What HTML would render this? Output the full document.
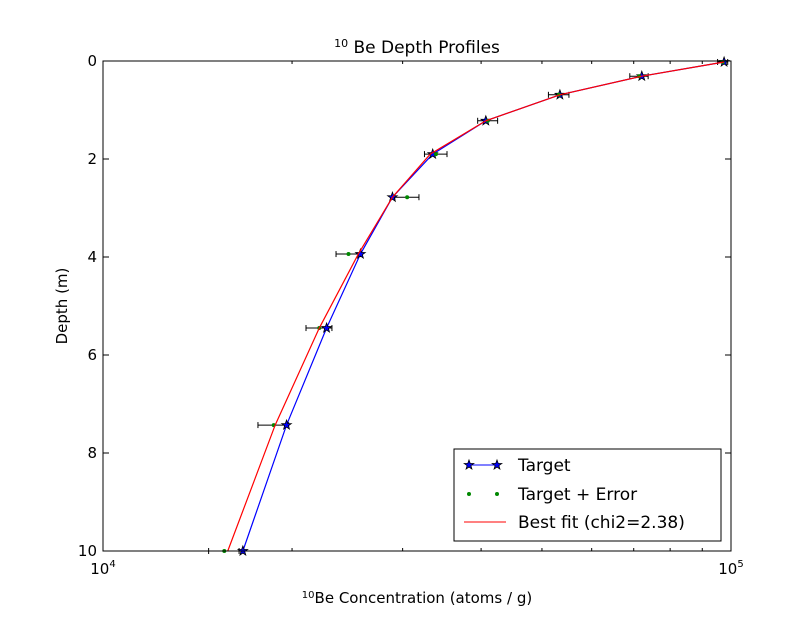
<!DOCTYPE html>
<html><head><meta charset="utf-8"><style>
body{margin:0;background:#fff;}
svg text{font-family:"DejaVu Sans","Liberation Sans",sans-serif;}
</style></head><body>
<svg id="chart" width="812" height="612" xmlns="http://www.w3.org/2000/svg">
<defs><polygon id="star" points="0,-5 1.2,-1.6 4.8,-1.5 1.9,0.6 2.9,4 0,2 -2.9,4 -1.9,0.6 -4.8,-1.5 -1.2,-1.6" fill="#00f" stroke="#000" stroke-width="0.8"/></defs>
<rect width="812" height="612" fill="#fff"/>
<g id="marks"></g>
<rect x="103" y="61" width="628" height="490" fill="none" stroke="#000" stroke-width="1"/>
<g id="axes"></g>
<text x="417" y="53" font-size="17" text-anchor="middle"><tspan font-size="11" dy="-6">10</tspan><tspan dy="6"> Be Depth Profiles</tspan></text>
<text x="417" y="603" font-size="15" text-anchor="middle"><tspan font-size="10" dy="-5">10</tspan><tspan dy="5">Be Concentration (atoms / g)</tspan></text>
<text x="67" y="306" font-size="15" text-anchor="middle" transform="rotate(-90 67 306)">Depth (m)</text>
<g>
<rect x="454" y="449" width="267" height="92" fill="#fff" stroke="#000" stroke-width="1"/>
<g>
<line x1="469" y1="465" x2="497" y2="465" stroke="#00f" stroke-width="1"/>
<use href="#star" x="469" y="465"/><use href="#star" x="497" y="465"/>
<text x="518" y="471" font-size="17">Target</text></g>
<g>
<circle cx="469" cy="494" r="2" fill="#080"/><circle cx="497" cy="494" r="2" fill="#080"/>
<text x="518" y="500" font-size="17">Target + Error</text></g>
<g>
<line x1="464" y1="522" x2="506" y2="522" stroke="#f00" stroke-width="1"/>
<text x="518" y="528" font-size="17">Best fit (chi2=2.38)</text></g>
</g>
</svg>
<script>
const depths=[0.02,0.31,0.69,1.22,1.90,2.78,3.94,5.45,7.43,10.0];
const targetValues=[97500,72100,53400,40700,33500,28900,25700,22700,19600,16700];
const errorValues=[97000,71400,53200,41000,33900,30500,24600,22100,18700,15600];
const errorSizes=[1800,2400,2000,1500,1400,1350,1100,1050,1050,870];
const fitValues=[97500,72100,53400,40700,33200,28900,25500,22100,18800,15800];
const yTicks=[0,2,4,6,8,10];
const xTickLabels=["4","5"];
const NS="http://www.w3.org/2000/svg";
function xs(v){return 103+628*(Math.log10(v)-4);}
function ys(d){return 61+49*d;}
function mk(t,a,p){const e=document.createElementNS(NS,t);for(const k in a)e.setAttribute(k,a[k]);p.appendChild(e);return e;}
const m=document.getElementById('marks'),ax=document.getElementById('axes');
errorValues.forEach((v,i)=>{
 const g=mk('g',{},m);
 
 
 const x1=xs(v-errorSizes[i]),x2=xs(v+errorSizes[i]),y=ys(depths[i]);
 mk('line',{x1:x1,x2:x2,y1:y,y2:y,stroke:'#000','stroke-width':1},g);
 mk('line',{x1:x1,x2:x1,y1:y-3,y2:y+3,stroke:'#000','stroke-width':1},g);
 mk('line',{x1:x2,x2:x2,y1:y-3,y2:y+3,stroke:'#000','stroke-width':1},g);
});
const tl=mk('polyline',{points:targetValues.map((v,i)=>xs(v)+','+ys(depths[i])).join(' '),fill:'none',stroke:'#00f','stroke-width':1.2},m);


targetValues.forEach((v,i)=>{
 const s=mk('use',{href:'#star',x:xs(v),y:ys(depths[i])},m);
 
 
});
errorValues.forEach((v,i)=>{
 const c=mk('circle',{cx:xs(v),cy:ys(depths[i]),r:2,fill:'#080'},m);
 
 
});
const fl=mk('polyline',{points:fitValues.map((v,i)=>xs(v)+','+ys(depths[i])).join(' '),fill:'none',stroke:'#f00','stroke-width':1.2},m);


yTicks.forEach(d=>{
 const y=ys(d);
 mk('line',{x1:103,x2:109,y1:y,y2:y,stroke:'#000'},ax);
 mk('line',{x1:725,x2:731,y1:y,y2:y,stroke:'#000'},ax);
 const t=mk('text',{x:97,y:y+5,'font-size':15,'text-anchor':'end'},ax);
 t.textContent=d;
 
 
});
for(let k=1;k<=10;k++){
 const x=xs(k*1e4),len=(k===1||k===10)?6:3;
 mk('line',{x1:x,x2:x,y1:551,y2:551-len,stroke:'#000'},ax);
 mk('line',{x1:x,x2:x,y1:61,y2:61+len,stroke:'#000'},ax);
}
xTickLabels.forEach((p,i)=>{
 const x=xs(Math.pow(10,4+i));
 const t=mk('text',{x:x,y:574,'font-size':15,'text-anchor':'middle'},ax);
 t.innerHTML='10<tspan font-size="10" dy="-7">'+p+'</tspan>';
 
 
});
</script>
</body></html>
